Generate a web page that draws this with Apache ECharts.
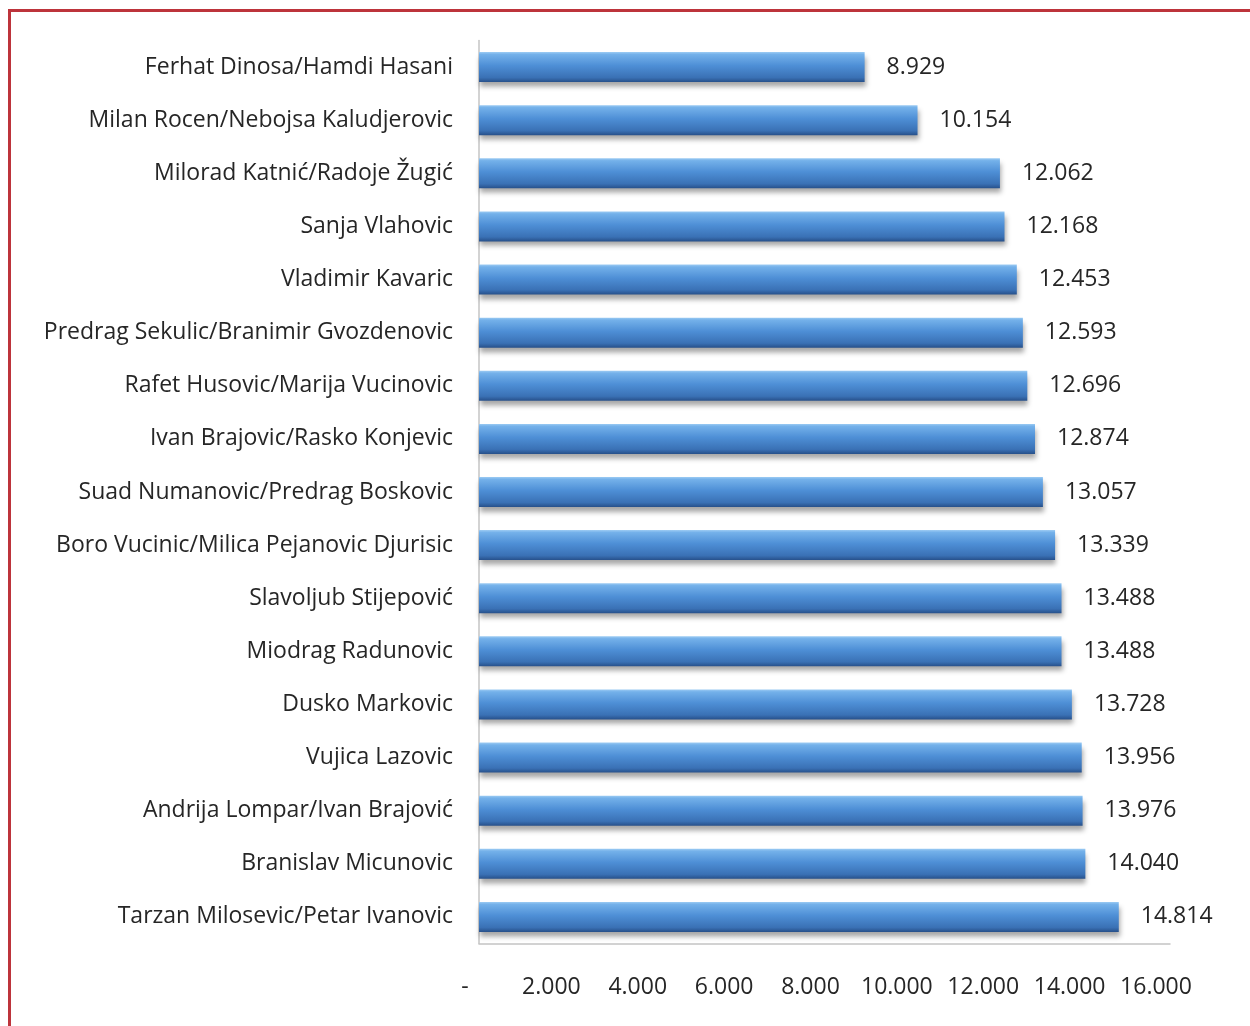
<!DOCTYPE html>
<html>
<head>
<meta charset="utf-8">
<script src="https://cdn.jsdelivr.net/npm/echarts@6/dist/echarts.min.js"></script>
<style>
html,body{margin:0;padding:0;background:#fff;}
#chart{width:1250px;height:1026px;position:absolute;left:0;top:0;}
#frame{position:absolute;left:8px;top:9px;width:1400px;height:1200px;border-top:3px solid #bd343b;border-left:3px solid #bd343b;pointer-events:none;}
</style>
</head>
<body>
<div id="chart"></div>
<div id="frame"></div>
<script>
const categories = [
  "Ferhat Dinosa/Hamdi Hasani",
  "Milan Rocen/Nebojsa Kaludjerovic",
  "Milorad Katnić/Radoje Žugić",
  "Sanja Vlahovic",
  "Vladimir Kavaric",
  "Predrag Sekulic/Branimir Gvozdenovic",
  "Rafet Husovic/Marija Vucinovic",
  "Ivan Brajovic/Rasko Konjevic",
  "Suad Numanovic/Predrag Boskovic",
  "Boro Vucinic/Milica Pejanovic Djurisic",
  "Slavoljub Stijepović",
  "Miodrag Radunovic",
  "Dusko Markovic",
  "Vujica Lazovic",
  "Andrija Lompar/Ivan Brajović",
  "Branislav Micunovic",
  "Tarzan Milosevic/Petar Ivanovic"
];
const values = [8929, 10154, 12062, 12168, 12453, 12593, 12696, 12874, 13057, 13339, 13488, 13488, 13728, 13956, 13976, 14040, 14814];
const axisMin = 0, axisMax = 16000, axisStep = 2000;

function fmt(v){
  if (v === 0) return '-';
  return String(Math.round(v)).replace(/\B(?=(\d{3})+(?!\d))/g, '.');
}

const FONT = 'Open Sans';
const chart = echarts.init(document.getElementById('chart'), null, {renderer:'canvas'});
chart.setOption({
  backgroundColor: '#ffffff',
  animation: false,
  grid: {left: 479, right: 80, top: 40.5, bottom: 82.5, containLabel: false},
  xAxis: {
    type: 'value', min: axisMin, max: axisMax, interval: axisStep,
    axisLine: {show: true, onZero: false, lineStyle: {color: '#c4c4c4', width: 1.5}},
    axisTick: {show: false},
    splitLine: {show: false},
    axisLabel: {
      formatter: fmt, color: '#262626', fontFamily: FONT, fontSize: 23,
      margin: 32, padding: [0, 28, 0, 0]
    }
  },
  yAxis: {
    type: 'category', data: categories, inverse: true,
    axisLine: {show: true, lineStyle: {color: '#c4c4c4', width: 1.5}},
    axisTick: {show: false},
    axisLabel: {color: '#262626', fontFamily: FONT, fontSize: 23, margin: 26, padding: [8, 0, 0, 0]}
  },
  series: [{
    type: 'bar',
    data: values,
    barWidth: 30,
    itemStyle: {
      color: new echarts.graphic.LinearGradient(0, 0, 0, 1, [
        {offset: 0, color: '#9ccbf3'},
        {offset: 0.08, color: '#74b1ea'},
        {offset: 0.45, color: '#4e8fd6'},
        {offset: 0.85, color: '#3a71b5'},
        {offset: 1, color: '#27508a'}
      ]),
      shadowColor: 'rgba(0,0,0,0.35)',
      shadowBlur: 5,
      shadowOffsetY: 5,
      shadowOffsetX: 1
    },
    label: {
      show: true, position: 'right', distance: 22,
      formatter: p => fmt(p.value),
      color: '#262626', fontFamily: FONT, fontSize: 23, padding: [8, 0, 0, 0]
    }
  }]
});
</script>
</body>
</html>
